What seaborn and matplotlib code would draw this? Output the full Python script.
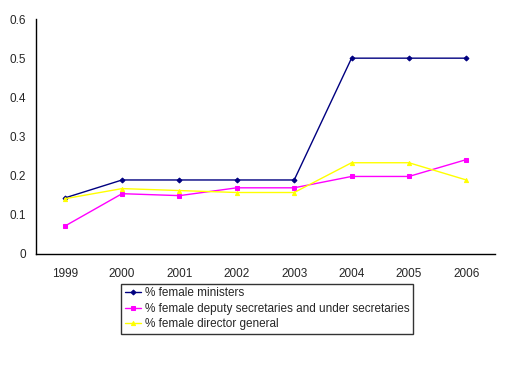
import pandas as pd
import numpy as np
import matplotlib.pyplot as plt
import seaborn as sns

years = ['1999', '2000', '2001', '2002', '2003', '2004', '2005', '2006']
ministers = [0.143, 0.189, 0.189, 0.189, 0.189, 0.5, 0.5, 0.5]
deputy = [0.071, 0.154, 0.149, 0.169, 0.169, 0.198, 0.198, 0.241]
director = [0.141, 0.167, 0.162, 0.157, 0.157, 0.233, 0.233, 0.189]

labels = ['% female ministers',
          '% female deputy secretaries and under secretaries',
          '% female director general']

df = pd.DataFrame({'year': years, labels[0]: ministers,
                   labels[1]: deputy, labels[2]: director})
df = df.melt(id_vars='year', var_name='series', value_name='share')

sns.set_style('white')
plt.rcParams['font.family'] = ['Liberation Sans', 'DejaVu Sans']

fig = plt.figure(figsize=(5.21, 3.84), dpi=100)
ax = fig.add_axes([36 / 521, 1 - 254 / 384, (495 - 36) / 521, (254 - 19) / 384])

colors = {labels[0]: '#000080', labels[1]: '#ff00ff', labels[2]: '#ffff00'}
markers = {labels[0]: 'D', labels[1]: 's', labels[2]: '^'}
sizes = {labels[0]: 2.5, labels[1]: 3, labels[2]: 3}

for lab in labels:
    sub = df[df['series'] == lab]
    sns.lineplot(data=sub, x='year', y='share', color=colors[lab],
                 marker=markers[lab], markersize=sizes[lab],
                 markeredgecolor=colors[lab], linewidth=1, label=lab,
                 ax=ax, legend=False)

ax.set_xlim(-0.5, 7.5)
ax.set_ylim(0, 0.6)
ax.set_yticks(np.arange(0, 0.61, 0.1))
ax.set_yticklabels(['0', '0.1', '0.2', '0.3', '0.4', '0.5', '0.6'])
ax.set_xticks(np.arange(-0.5, 8, 1))
ax.set_xticklabels([])
ax.set_xticks(range(8), minor=True)
ax.set_xticklabels(years, minor=True)
ax.tick_params(axis='x', which='major', length=4, width=1, color='black', direction='out')
ax.tick_params(axis='x', which='minor', length=0, labelsize=8.5, pad=10)
ax.tick_params(axis='y', length=4, width=1, color='black', direction='out', labelsize=8.5, pad=3)
ax.set_xlabel('')
ax.set_ylabel('')

for s in ['top', 'right']:
    ax.spines[s].set_visible(False)
for s in ['left', 'bottom']:
    ax.spines[s].set_color('black')
    ax.spines[s].set_linewidth(1)

handles, lbls = ax.get_legend_handles_labels()
leg = fig.legend(handles, lbls, loc='lower left', bbox_to_anchor=(121 / 521, 1 - 334 / 384),
                 fontsize=8.5, frameon=True, fancybox=False, edgecolor='black',
                 borderpad=0.3, labelspacing=0.3, handlelength=1.4, handletextpad=0.3,
                 borderaxespad=0)
leg.get_frame().set_linewidth(1)

fig.savefig('out.png', dpi=100)
